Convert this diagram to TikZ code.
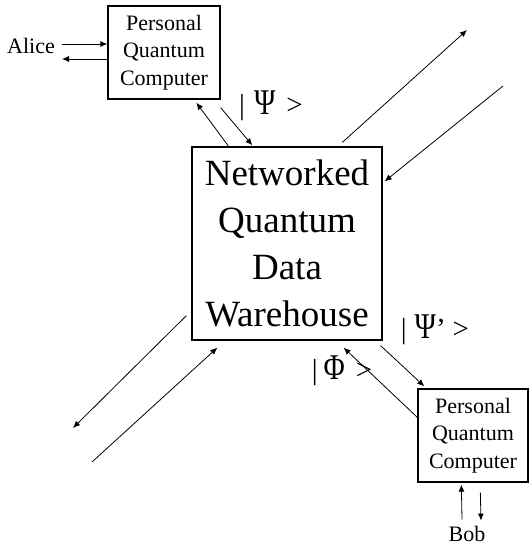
\documentclass[tikz,border=0pt]{standalone}
\usepackage{fontspec}
\usepackage{graphicx}
\setmainfont{Liberation Serif}
\usetikzlibrary{arrows.meta,calc}
\begin{document}
\begin{tikzpicture}[x=1pt,y=-1pt,
  box/.style={draw,line width=1.3pt,inner sep=0pt,align=center},
  smalltxt/.style={font=\fontsize{22}{27.5}\selectfont},
  bigtxt/.style={font=\fontsize{37}{47}\selectfont},
  arr/.style={line width=0.8pt,-{Latex[length=7pt,width=6pt]}},
  lbl/.style={inner sep=0pt,font=\fontsize{29}{31}\selectfont},
  person/.style={inner sep=0pt,font=\fontsize{22}{26}\selectfont}]
\useasboundingbox (0,0) rectangle (530,546);
% boxes
\node[box,smalltxt,minimum width=112pt,minimum height=93pt] (pqc1) at (164,52.5) {Personal\\Quantum\\Computer};
\node[box,bigtxt,minimum width=190pt,minimum height=193pt] (nqdw) at (287,243.5) {Networked\\Quantum\\Data\\Warehouse};
\node[box,smalltxt,minimum width=110pt,minimum height=93pt] (pqc2) at (473,435.5) {Personal\\Quantum\\Computer};
% people
\node[person] (alice) at (31,46) {Alice};
\node[person] (bob) at (467,534) {Bob};
% free ends
\coordinate (ne1) at (467,30);
\coordinate (ne2) at (503,86);
\coordinate (sw1) at (73,428);
\coordinate (sw2) at (92,462);
% labels
\node[lbl] (psi) at (271,105.5) {|\hspace{9pt}\scalebox{1}[1.25]{Ψ}\hspace{11pt}>};
\node[lbl] (psip) at (435,330) {|\hspace{8pt}\scalebox{1}[1.25]{Ψ}\symbol{39}\hspace{7pt}>};
\node[lbl] (phi) at (342,370.5) {|\hspace{6pt}\scalebox{1}[1.25]{Φ}\hspace{11pt}>};
% Alice arrows
\draw[arr] ($(alice.east)+(7,-2)$) -- ($(pqc1.west)+(0,-8.5)$);
\draw[arr] ($(pqc1.west)+(0,6.5)$) -- ($(alice.east)+(7,13)$);
% pqc1 <-> nqdw
\draw[arr] ($(nqdw.north west)+(38,1)$) -- ($(pqc1.south west)+(89,3)$);
\draw[arr] ($(pqc1.south east)+(0,8)$) -- ($(nqdw.north west)+(61,-1)$);
% NE
\draw[arr] ($(nqdw.north west)+(151,-4)$) -- (ne1);
\draw[arr] (ne2) -- ($(nqdw.north east)+(2,35)$);
% SW
\draw[arr] ($(nqdw.south west)+(-5,-25)$) -- (sw1);
\draw[arr] (sw2) -- ($(nqdw.south west)+(26,7)$);
% nqdw <-> pqc2
\draw[arr] ($(nqdw.south east)+(-2,5)$) -- ($(pqc2.north west)+(7,-2)$);
\draw[arr] ($(pqc2.north west)+(0,29)$) -- ($(nqdw.south east)+(-39,7)$);
% Bob arrows
\draw[arr] ($(bob.north)+(-5,-6.5)$) -- ($(pqc2.south west)+(44,2)$);
\draw[arr] ($(pqc2.south west)+(63,10)$) -- ($(bob.north)+(14,-5.5)$);
\end{tikzpicture}
\end{document}
